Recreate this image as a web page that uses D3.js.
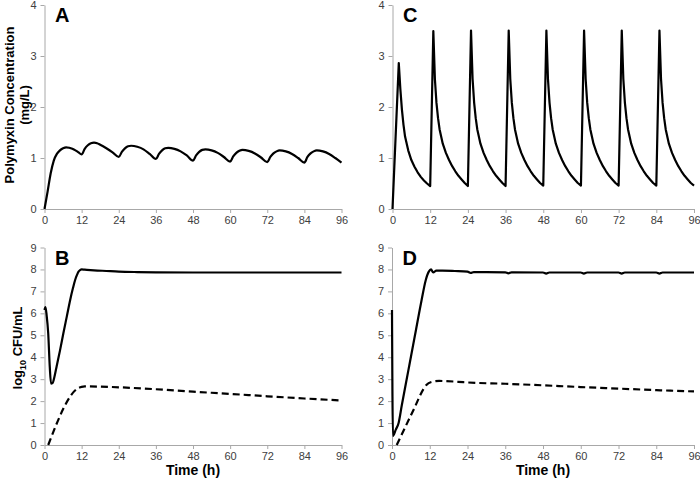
<!DOCTYPE html>
<html>
<head>
<meta charset="utf-8">
<script src="https://cdn.jsdelivr.net/npm/d3@7"></script>
<style>
html,body{margin:0;padding:0;background:#fff;}
svg{display:block;font-family:Arial,"Liberation Sans",sans-serif;}
.tick text{fill:#404040;font-size:11px;}
.domain,.tick line{stroke:#a8a8a8;}
</style>
</head>
<body>
<svg id="chart" width="700" height="480"></svg>
<script>
// ---- data ----
const xTicks = [0, 12, 24, 36, 48, 60, 72, 84, 96];
const concTicks = [0, 1, 2, 3, 4];
const cfuTicks = [0, 1, 2, 3, 4, 5, 6, 7, 8, 9];

// Panel A: polymyxin concentration (mg/L), regimen A
const tA = [0,1,2,3,4,5,6,7,8,9,10,11,12,
  13,14,15,16,17,18,20,22,24,
  25,26,27,28,30,32,34,36,
  37,38,39,40,42,44,46,48,
  49,50,51,52,54,56,58,60,
  61,62,63,64,66,68,70,72,
  73,74,75,76,78,80,82,84,
  85,86,87,88,90,92,94,96];
const concA = [0,0.34,0.70,0.95,1.08,1.15,1.19,1.21,1.20,1.18,1.15,1.11,1.07,
  1.18,1.25,1.29,1.30,1.29,1.26,1.19,1.11,1.02,
  1.12,1.19,1.23,1.24,1.22,1.17,1.08,0.98,
  1.08,1.15,1.19,1.20,1.18,1.13,1.05,0.95,
  1.05,1.12,1.16,1.17,1.15,1.10,1.02,0.93,
  1.03,1.10,1.14,1.16,1.14,1.09,1.01,0.92,
  1.02,1.09,1.13,1.15,1.13,1.08,1.00,0.91,
  1.02,1.09,1.13,1.15,1.13,1.08,1.00,0.91];

// Panel C: polymyxin concentration (mg/L), regimen C
const tC = [0,2,2.5,3,3.5,4,5,6,7,8,9,10,11,12,
  13,13.5,14,14.5,15,16,17,18,19,20,21,22,23,24,
  25,25.5,26,26.5,27,28,29,30,31,32,33,34,35,36,
  37,37.5,38,38.5,39,40,41,42,43,44,45,46,47,48,
  49,49.5,50,50.5,51,52,53,54,55,56,57,58,59,60,
  61,61.5,62,62.5,63,64,65,66,67,68,69,70,71,72,
  73,73.5,74,74.5,75,76,77,78,79,80,81,82,83,84,
  85,85.5,86,86.5,87,88,89,90,91,92,93,94,95,96];
const concC = [0,2.86,2.35,1.95,1.65,1.42,1.15,0.96,0.83,0.72,0.63,0.56,0.50,0.45,
  3.49,2.55,2.08,1.78,1.56,1.28,1.10,0.96,0.84,0.74,0.65,0.58,0.51,0.45,
  3.50,2.55,2.08,1.78,1.56,1.28,1.10,0.96,0.84,0.74,0.65,0.58,0.51,0.45,
  3.50,2.55,2.08,1.78,1.56,1.28,1.10,0.96,0.84,0.74,0.65,0.58,0.51,0.46,
  3.50,2.55,2.08,1.78,1.56,1.28,1.10,0.96,0.84,0.74,0.65,0.58,0.51,0.46,
  3.50,2.55,2.08,1.78,1.56,1.28,1.10,0.96,0.84,0.74,0.65,0.58,0.51,0.46,
  3.50,2.55,2.08,1.78,1.56,1.28,1.10,0.96,0.84,0.74,0.65,0.58,0.51,0.46,
  3.50,2.55,2.08,1.78,1.56,1.28,1.10,0.96,0.84,0.74,0.65,0.58,0.51,0.46];

// Panel B: log10 CFU/mL, total (solid) and resistant (dashed)
const tBtotal = [0,0.3,0.7,1.2,1.7,2.1,2.6,3.2,3.9,5,6.1,7.2,8.3,9.2,9.9,10.5,11,11.5,12,13,16,20,24,30,36,48,60,72,84,96];
const cfuBtotal = [6.15,6.28,5.9,5.09,3.57,2.8,2.82,3.1,3.57,4.3,5.09,5.85,6.61,7.15,7.52,7.75,7.9,7.97,8.0,7.99,7.96,7.93,7.9,7.88,7.87,7.86,7.86,7.86,7.86,7.86];
const tBres = [1.2,11,12,13,24,36,48,60,72,84,96];
const cfuBres = [0,2.6,2.65,2.67,2.63,2.54,2.43,2.33,2.22,2.12,2.03];

// Panel D: log10 CFU/mL, total (solid) and resistant (dashed)
const tDtotal = [0,0.3,1.2,2.1,3.1,5.2,7.3,9.4,10.7,11.7,12.4,13.1,14.1,16,20,24,25,26,30,36,37,38,48,49,50,60,61,62,72,73,74,84,85,86,96];
const cfuDtotal = [6.15,0.42,0.7,1.0,1.8,3.4,5.0,6.6,7.5,7.9,8.0,7.86,7.95,7.95,7.93,7.9,7.84,7.88,7.88,7.87,7.82,7.87,7.86,7.81,7.86,7.86,7.81,7.86,7.86,7.81,7.86,7.86,7.81,7.86,7.86];
const tDres = [1.5,4,7,10,11,12.5,15,17,21,24,36,48,60,72,84,96];
const cfuDres = [0,0.75,1.65,2.55,2.75,2.87,2.92,2.91,2.88,2.85,2.79,2.72,2.64,2.57,2.5,2.44];

// ---- layout ----
const svg = d3.select("#chart");
const zip = (t, v) => t.map((d, i) => [d, v[i]]);
const fmt = d3.format("d");

const panels = [
  {label:"A", x:[44.5,341.5], y:[209,5], dom:[0,4], ticks:concTicks,
   series:[{d:zip(tA, concA), dash:null, curve:d3.curveMonotoneX}]},
  {label:"C", x:[392.5,694], y:[209,5], dom:[0,4], ticks:concTicks,
   series:[{d:zip(tC, concC), dash:null, curve:d3.curveLinear}]},
  {label:"B", x:[44.5,341.5], y:[445,247.5], dom:[0,9], ticks:cfuTicks,
   series:[{d:zip(tBtotal, cfuBtotal), dash:null, curve:d3.curveMonotoneX},
           {d:zip(tBres, cfuBres), dash:"7,4", curve:d3.curveMonotoneX}]},
  {label:"D", x:[392,694], y:[445,247.5], dom:[0,9], ticks:cfuTicks,
   series:[{d:zip(tDtotal, cfuDtotal), dash:null, curve:d3.curveMonotoneX},
           {d:zip(tDres, cfuDres), dash:"7,4", curve:d3.curveMonotoneX}]}
];

panels.forEach(p => {
  const xs = d3.scaleLinear().domain([0, 96]).range(p.x);
  const ys = d3.scaleLinear().domain(p.dom).range(p.y);
  const g = svg.append("g");

  g.append("g").attr("transform", `translate(0,${p.y[0]})`)
    .call(d3.axisBottom(xs).tickValues(xTicks).tickFormat(fmt).tickSize(4).tickSizeOuter(0).tickPadding(3));
  g.append("g").attr("transform", `translate(${p.x[0]},0)`)
    .call(d3.axisLeft(ys).tickValues(p.ticks).tickFormat(fmt).tickSize(4).tickSizeOuter(0).tickPadding(4));
  g.selectAll(".domain").attr("stroke", "#a8a8a8");
  g.selectAll(".tick line").attr("stroke", "#a8a8a8");

  p.series.forEach(s => {
    const line = d3.line().x(d => xs(d[0])).y(d => ys(d[1])).curve(s.curve);
    g.append("path").datum(s.d)
      .attr("d", line)
      .attr("fill", "none")
      .attr("stroke", "#000")
      .attr("stroke-width", 2.2)
      .attr("stroke-linejoin", "round")
      .attr("stroke-dasharray", s.dash);
  });

  g.append("text")
    .attr("x", p.x[0] + 10.5).attr("y", p.y[1] + 17)
    .attr("font-size", 20).attr("font-weight", "bold").attr("fill", "#000")
    .text(p.label);
});

// y axis titles
const t1 = svg.append("text").attr("transform", "translate(14,105) rotate(-90)")
  .attr("text-anchor", "middle").attr("font-size", 13).attr("font-weight", "bold");
t1.append("tspan").attr("x", 0).attr("y", 0).text("Polymyxin Concentration");
t1.append("tspan").attr("x", 0).attr("y", 15).text("(mg/L)");

const t2 = svg.append("text").attr("transform", "translate(22,348) rotate(-90)")
  .attr("text-anchor", "middle").attr("font-size", 13).attr("font-weight", "bold");
t2.append("tspan").text("log");
t2.append("tspan").attr("font-size", 9).attr("dy", 4).text("10");
t2.append("tspan").attr("dy", -4).text(" CFU/mL");

// x axis titles
[193, 543].forEach(cx => {
  svg.append("text").attr("x", cx).attr("y", 475)
    .attr("text-anchor", "middle").attr("font-size", 14).attr("font-weight", "bold")
    .text("Time (h)");
});
</script>
</body>
</html>
